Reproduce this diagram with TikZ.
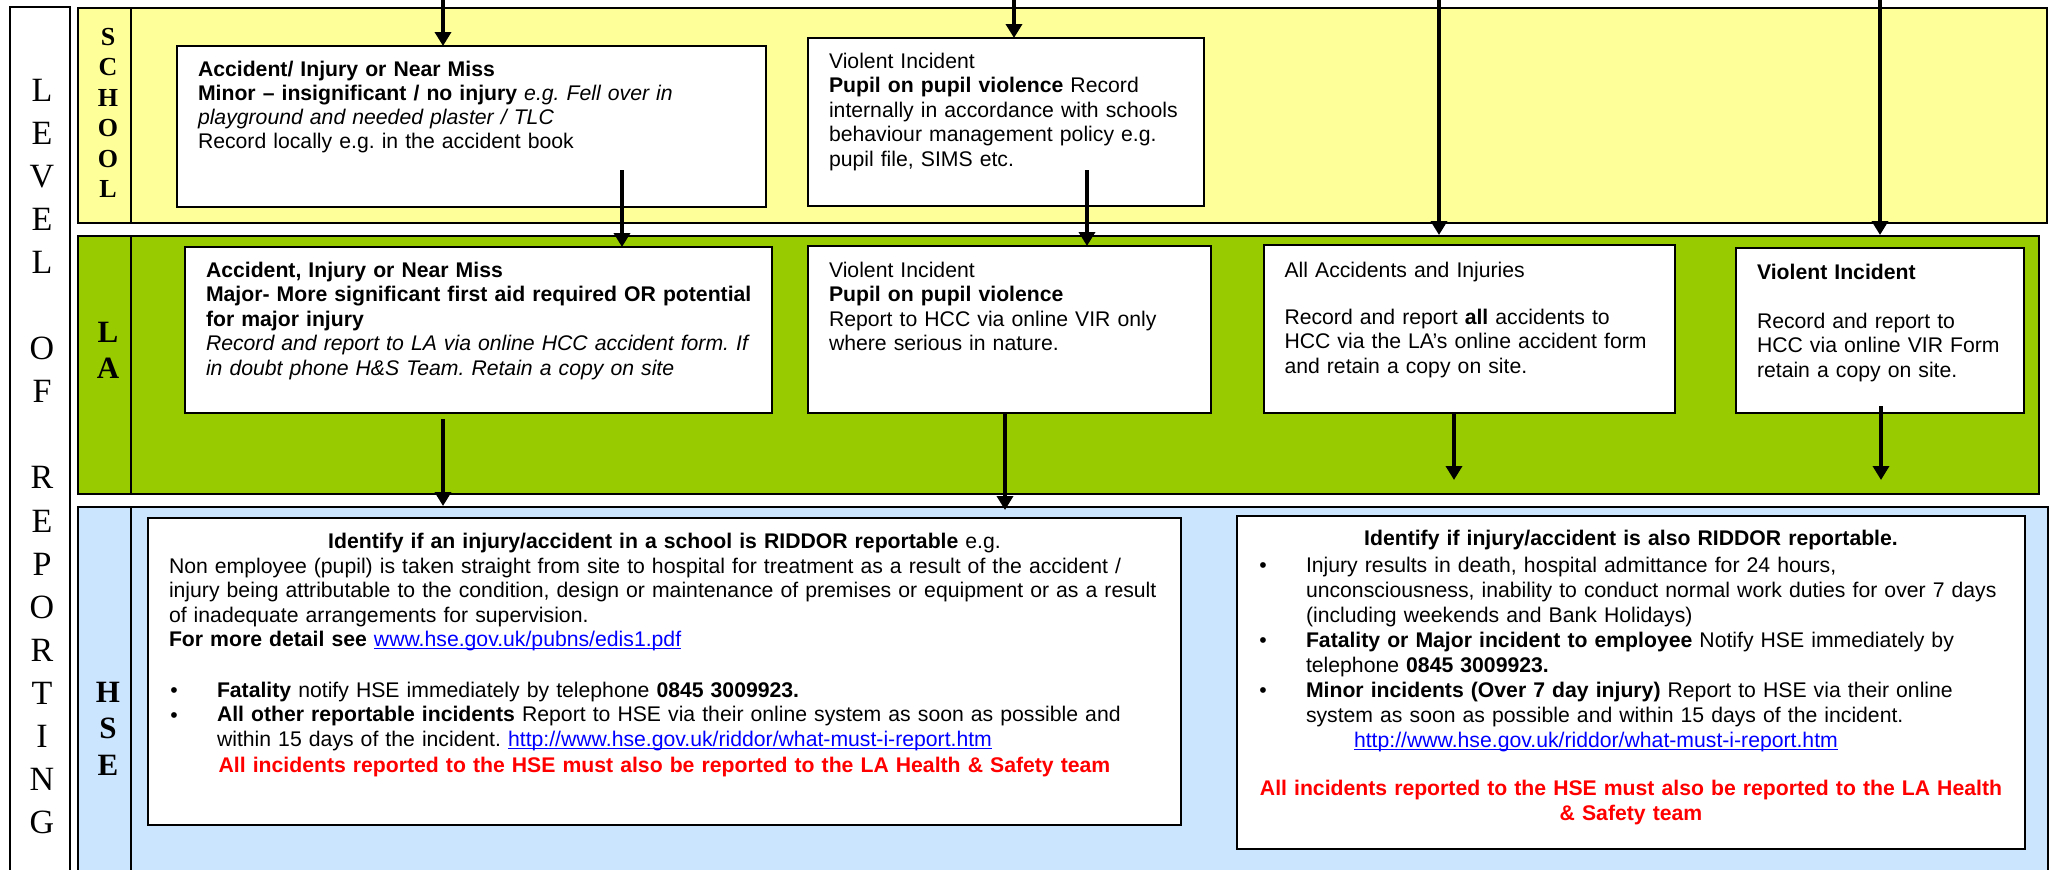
\documentclass[tikz,border=0pt]{standalone}
\usepackage{fontspec}
\setmainfont{Liberation Sans}
\newfontfamily\serifface{Liberation Serif}
\usetikzlibrary{arrows.meta,fit}
\definecolor{schoolyellow}{HTML}{FFFF99}
\definecolor{lagreen}{HTML}{99CC00}
\definecolor{hseblue}{HTML}{CCE5FF}
\definecolor{lnkblue}{HTML}{0000FF}
\definecolor{alertred}{HTML}{FF0000}
\newcommand\lnk[1]{{\color{lnkblue}\setbox0\hbox{#1}\rlap{\rule[-1.3pt]{\wd0}{0.5pt}}\box0}}
\newcommand\bodyfont{\fontsize{10.6pt}{12.3pt}\selectfont}
\frenchspacing
\begin{document}
\begin{tikzpicture}[x=0.5pt,y=-0.5pt,
  every node/.style={inner sep=0pt, outer sep=0pt},
  band/.style={draw=black, line width=1pt, inner sep=0pt},
  box/.style={draw=black, line width=1pt, fill=white, inner sep=0pt},
  arr/.style={line width=1.8pt, -{Triangle[length=7pt,width=8pt]}},
  txt/.style={anchor=base west, align=left, text width=560pt, font=\bodyfont},
  ctxt/.style={anchor=base, align=center, text width=560pt, font=\bodyfont},
  bul/.style={anchor=base, font=\bodyfont},
  lvl/.style={anchor=base, align=center, text width=30pt, font=\serifface\fontsize{17pt}{21.525pt}\selectfont},
  blbl/.style={anchor=base, align=center, text width=26pt, font=\serifface\bfseries\fontsize{13pt}{15.2pt}\selectfont},
]
\useasboundingbox (0,0) rectangle (2053,869);
\clip (0,0) rectangle (2053,869);

% bands
\node[band, fill=white, fit={(10,7) (70,880)}] (lvlcol) {};
\node[band, fill=schoolyellow, fit={(78,8) (2047,223)}] (schoolband) {};
\node[band, fill=lagreen, fit={(78,236) (2039,494)}] (laband) {};
\node[band, fill=hseblue, fit={(78,507) (2048,880)}] (hseband) {};
\draw[line width=1pt] ([xshift=26.5pt]schoolband.north west) -- ([xshift=26.5pt]schoolband.south west);
\draw[line width=1pt] ([xshift=26.5pt]laband.north west) -- ([xshift=26.5pt]laband.south west);
\draw[line width=1pt] ([xshift=26.5pt]hseband.north west) -- ([xshift=26.5pt]hseband.south west);

% labels
\node[lvl] (lvltext) at (42,101.5) {L\\E\\V\\E\\L\\\mbox{}\\O\\F\\\mbox{}\\R\\E\\P\\O\\R\\T\\I\\N\\G};
\node[blbl] (lblschool) at (108,45.5) {S\\C\\H\\O\\O\\L};
\node[blbl, font=\serifface\bfseries\fontsize{15.5pt}{18pt}\selectfont] (lblla) at (108,342.5) {L\\A};
\node[blbl, font=\serifface\bfseries\fontsize{15.5pt}{18.25pt}\selectfont] (lblhse) at (108,702) {H\\S\\E};

% boxes
\node[box, fit={(177,46) (766,207)}] (sb1) {};
\node[box, fit={(808,38) (1204,206)}] (sb2) {};
\node[box, fit={(185,247) (772,413)}] (lb1) {};
\node[box, fit={(808,246) (1211,413)}] (lb2) {};
\node[box, fit={(1264,245) (1675,413)}] (lb3) {};
\node[box, fit={(1736,248) (2024,413)}] (lb4) {};
\node[box, fit={(148,518) (1181,825)}] (hb1) {};
\node[box, fit={(1237,516) (2025,849)}] (hb2) {};

% school texts
\node[txt, font=\fontsize{10.6pt}{12.15pt}\selectfont] (sb1t) at (198,76) {\textbf{Accident/ Injury or Near Miss}\\
\textbf{Minor – insignificant / no injury} \textit{e.g. Fell over in}\\
\textit{playground and needed plaster / TLC}\\
Record locally e.g. in the accident book};
\node[txt] (sb2t) at (829,68) {Violent Incident\\
\textbf{Pupil on pupil violence} Record\\
internally in accordance with schools\\
behaviour management policy e.g.\\
pupil file, SIMS etc.};

% LA texts
\node[txt, font=\fontsize{10.6pt}{12.25pt}\selectfont] (lb1t) at (206,277) {\textbf{Accident, Injury or Near Miss}\\
\textbf{Major- More significant first aid required OR potential}\\
\textbf{for major injury}\\
\textit{Record and report to LA via online HCC accident form. If}\\
\textit{in doubt phone H\&S Team. Retain a copy on site}};
\node[txt, font=\fontsize{10.6pt}{12.25pt}\selectfont] (lb2t) at (829,277) {Violent Incident\\
\textbf{Pupil on pupil violence}\\
Report to HCC via online VIR only\\
where serious in nature.};
\node[txt] (lb3h) at (1284.5,277) {All Accidents and Injuries};
\node[txt] (lb3t) at (1284.5,324) {Record and report \textbf{all} accidents to\\
HCC via the LA’s online accident form\\
and retain a copy on site.};
\node[txt] (lb4h) at (1757,279) {\textbf{Violent Incident}};
\node[txt] (lb4t) at (1757,328) {Record and report to\\
HCC via online VIR Form\\
retain a copy on site.};

% HSE box 1
\node[ctxt] (hb1h) at (664.5,548) {\textbf{Identify if an injury/accident in a school is RIDDOR reportable} e.g.};
\node[txt, text width=1000pt] (hb1t) at (169,573) {Non employee (pupil) is taken straight from site to hospital for treatment as a result of the accident /\\
injury being attributable to the condition, design or maintenance of premises or equipment or as a result\\
of inadequate arrangements for supervision.\\
\textbf{For more detail see} \lnk{www.hse.gov.uk/pubns/edis1.pdf}};
\node[bul] (hb1b1) at (174,697) {•};
\node[bul] (hb1b2) at (174,722) {•};
\node[txt, text width=1000pt, font=\fontsize{10.6pt}{12.45pt}\selectfont] (hb1i) at (217,697) {\textbf{Fatality} notify HSE immediately by telephone \textbf{0845 3009923.}\\
\textbf{All other reportable incidents} Report to HSE via their online system as soon as possible and\\
within 15 days of the incident. \lnk{http://www.hse.gov.uk/riddor/what-must-i-report.htm}};
\node[ctxt, text=alertred, font=\bodyfont\bfseries, text width=1000pt] (hb1r) at (664.5,772) {All incidents reported to the HSE must also be reported to the LA Health \& Safety team};

% HSE box 2
\node[ctxt] (hb2h) at (1631,545) {\textbf{Identify if injury/accident is also RIDDOR reportable.}};
\node[bul] (hb2b1) at (1263,572) {•};
\node[bul] (hb2b2) at (1263,647) {•};
\node[bul] (hb2b3) at (1263,697) {•};
\node[txt, font=\fontsize{10.6pt}{12.5pt}\selectfont] (hb2t) at (1306,572) {Injury results in death, hospital admittance for 24 hours,\\
unconsciousness, inability to conduct normal work duties for over 7 days\\
(including weekends and Bank Holidays)\\
\textbf{Fatality or Major incident to employee} Notify HSE immediately by\\
telephone \textbf{0845 3009923.}\\
\textbf{Minor incidents (Over 7 day injury)} Report to HSE via their online\\
system as soon as possible and within 15 days of the incident.\\
\hspace*{24pt}\lnk{http://www.hse.gov.uk/riddor/what-must-i-report.htm}};
\node[ctxt, text=alertred, font=\fontsize{10.6pt}{12.5pt}\selectfont\bfseries] (hb2r) at (1631,795) {All incidents reported to the HSE must also be reported to the LA Health\\
\& Safety team};

% connectors
\coordinate (in1) at (443,0);
\coordinate (in2) at (1014,0);
\coordinate (in3) at (1439,0);
\coordinate (in4) at (1880,0);
\draw[arr] (in1) -- (in1 |- sb1.north);
\draw[arr] (in2) -- (in2 |- sb2.north);
\draw[arr] (in3) -- ([yshift=0.5pt]in3 |- laband.north);
\draw[arr] (in4) -- ([yshift=0.5pt]in4 |- laband.north);
\coordinate (o1) at (622,170);
\draw[arr] (o1) -- (o1 |- lb1.north);
\coordinate (o2) at (1087,170);
\draw[arr] (o2) -- (o2 |- lb2.north);
\coordinate (o3) at (443,419);
\draw[arr] (o3) -- ([yshift=0.5pt]o3 |- hseband.north);
\coordinate (o4) at (1005,413);
\draw[arr, line width=2.4pt] (o4 |- lb2.south) -- ([yshift=-1.5pt]o4 |- hseband.north);
\coordinate (o5) at (1454,413);
\coordinate (e5) at (1454,480);
\draw[arr] (o5 |- lb3.south) -- (e5);
\coordinate (o6) at (1881,406);
\coordinate (e6) at (1881,480);
\draw[arr] (o6) -- (e6);
\end{tikzpicture}
\end{document}
